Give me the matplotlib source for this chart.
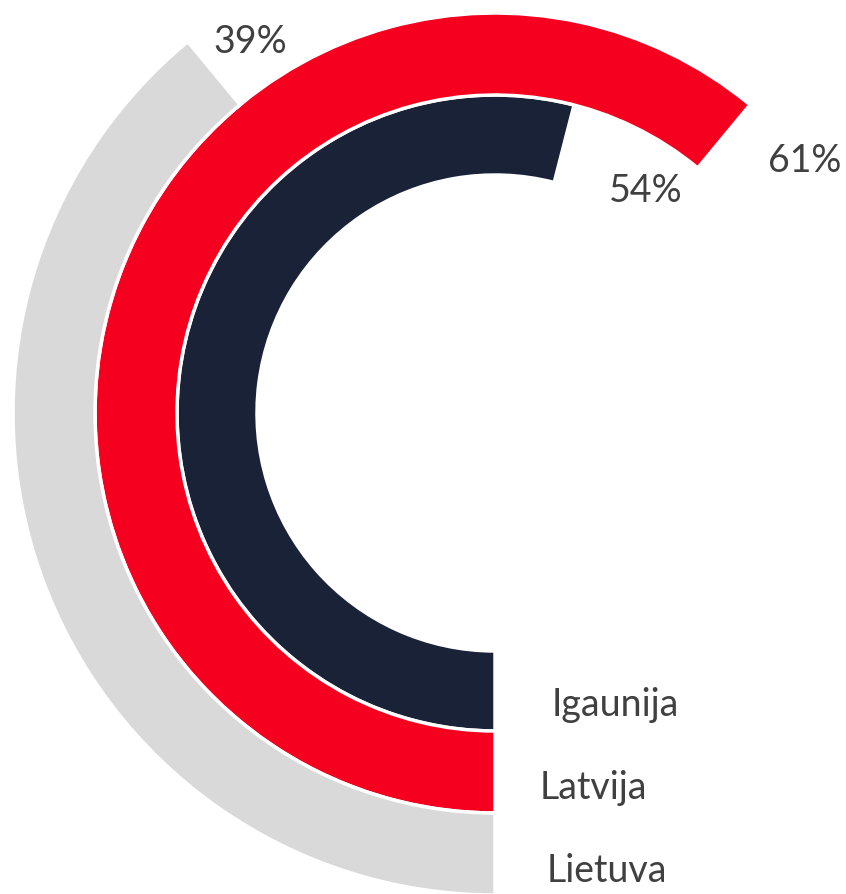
import numpy as np
import matplotlib
matplotlib.use("Agg")
import matplotlib.pyplot as plt

# data (share of a full circle)
countries = ["Igaunija", "Latvija", "Lietuva"]
values = [0.54, 0.61, 0.39]
colors = ["#1A2238", "#F5001E", "#D9D9D9"]

plt.rcParams['font.family'] = ['Lato', 'DejaVu Sans']
TEXT = "#404040"

W, H = 846, 895
fig = plt.figure(figsize=(W / 100, H / 100), dpi=100)

# polar axes sized so that 1 radial unit == 1 pixel
cx, cy = 495, 414  # centre in pixels, from the top
R = 490
ax = fig.add_axes([(cx - R) / W, (H - cy - R) / H, 2 * R / W, 2 * R / H],
                  projection="polar")
ax.set_theta_zero_location("S")
ax.set_theta_direction(-1)
ax.set_ylim(0, R)
ax.set_axis_off()

inner = 238
ring = [80, 82, 82]
bottoms = [inner, inner + ring[0], inner + ring[0] + ring[1]]
for v, b, h, c in zip(values, bottoms, ring, colors):
    ax.bar(0, h, width=v * 2 * np.pi, bottom=b, align="edge",
           color=c, edgecolor="white", linewidth=2.5)

# category labels next to the ring starts
cat_pos = [(615, 716), (593, 799), (607, 882)]
for name, (x, y) in zip(countries, cat_pos):
    fig.text(x / W, 1 - y / H, name, ha="center", va="baseline",
             fontsize=27, color=TEXT)

# value labels near the ring ends
val_pos = [(646, 202), (805, 172), (250, 53)]
for v, (x, y) in zip(values, val_pos):
    fig.text(x / W, 1 - y / H, f"{v:.0%}", ha="center", va="baseline",
             fontsize=27, color=TEXT)

fig.savefig("out.png", dpi=100)
